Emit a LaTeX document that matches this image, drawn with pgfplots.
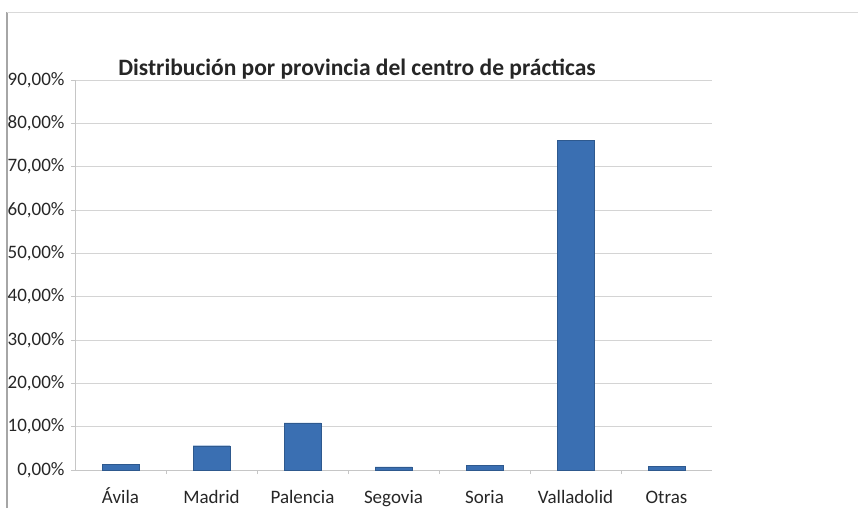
\documentclass[border=0pt]{standalone}
\usepackage{pgfplots}
\pgfplotsset{compat=1.18}
\usepackage{fontspec}
\setmainfont{Carlito}
\definecolor{barblue}{HTML}{3A6FB2}
\definecolor{gridgray}{HTML}{D4D4D4}
\begin{document}
\begin{tikzpicture}[x=1pt,y=1pt]
\useasboundingbox (0,0) rectangle (858,508);
\draw[gray!70, line width=1.2pt] (7,0) -- (7,496);
\draw[gray!30, line width=0.6pt] (7,496) -- (858,496);
\begin{axis}[
  at={(75pt,38pt)}, anchor=south west,
  scale only axis, width=637pt, height=390pt,
  xmin=-0.5, xmax=6.5, ymin=0, ymax=90,
  ybar, bar width=37pt,
  xtick={0,1,2,3,4,5,6},
  xticklabels={Ávila,Madrid,Palencia,Segovia,Soria,Valladolid,Otras},
  minor xtick={0.5,1.5,2.5,3.5,4.5,5.5},
  major x tick style={draw=none},
  minor tick length=4pt,
  ytick={0,10,20,30,40,50,60,70,80,90},
  yticklabels={{0,00\%},{10,00\%},{20,00\%},{30,00\%},{40,00\%},{50,00\%},{60,00\%},{70,00\%},{80,00\%},{90,00\%}},
  /pgf/number format/assume math mode=true,
  ymajorgrids, grid style={gridgray, line width=0.8pt},
  axis x line*=bottom, axis y line*=left,
  axis line style={gray!45, line width=0.8pt},
  tick style={gray!45, line width=0.8pt},
  major tick length=4pt,
  tick align=outside,
  ticklabel style={text=black!85},
  yticklabel style={font=\fontsize{19}{21}\selectfont, xshift=-3pt},
  xticklabel style={font=\fontsize{19}{21}\selectfont, anchor=base, yshift=-29pt},
]
\addplot[fill=barblue, draw=barblue!80!black, line width=0.4pt] coordinates {
  (0,1.3) (1,5.6) (2,10.9) (3,0.7) (4,1.0) (5,76.0) (6,0.8)
};
\end{axis}
\node[font=\fontsize{23.5}{26}\selectfont\bfseries, text=black!85] at (357,439) {Distribución por provincia del centro de prácticas};
\end{tikzpicture}
\end{document}
